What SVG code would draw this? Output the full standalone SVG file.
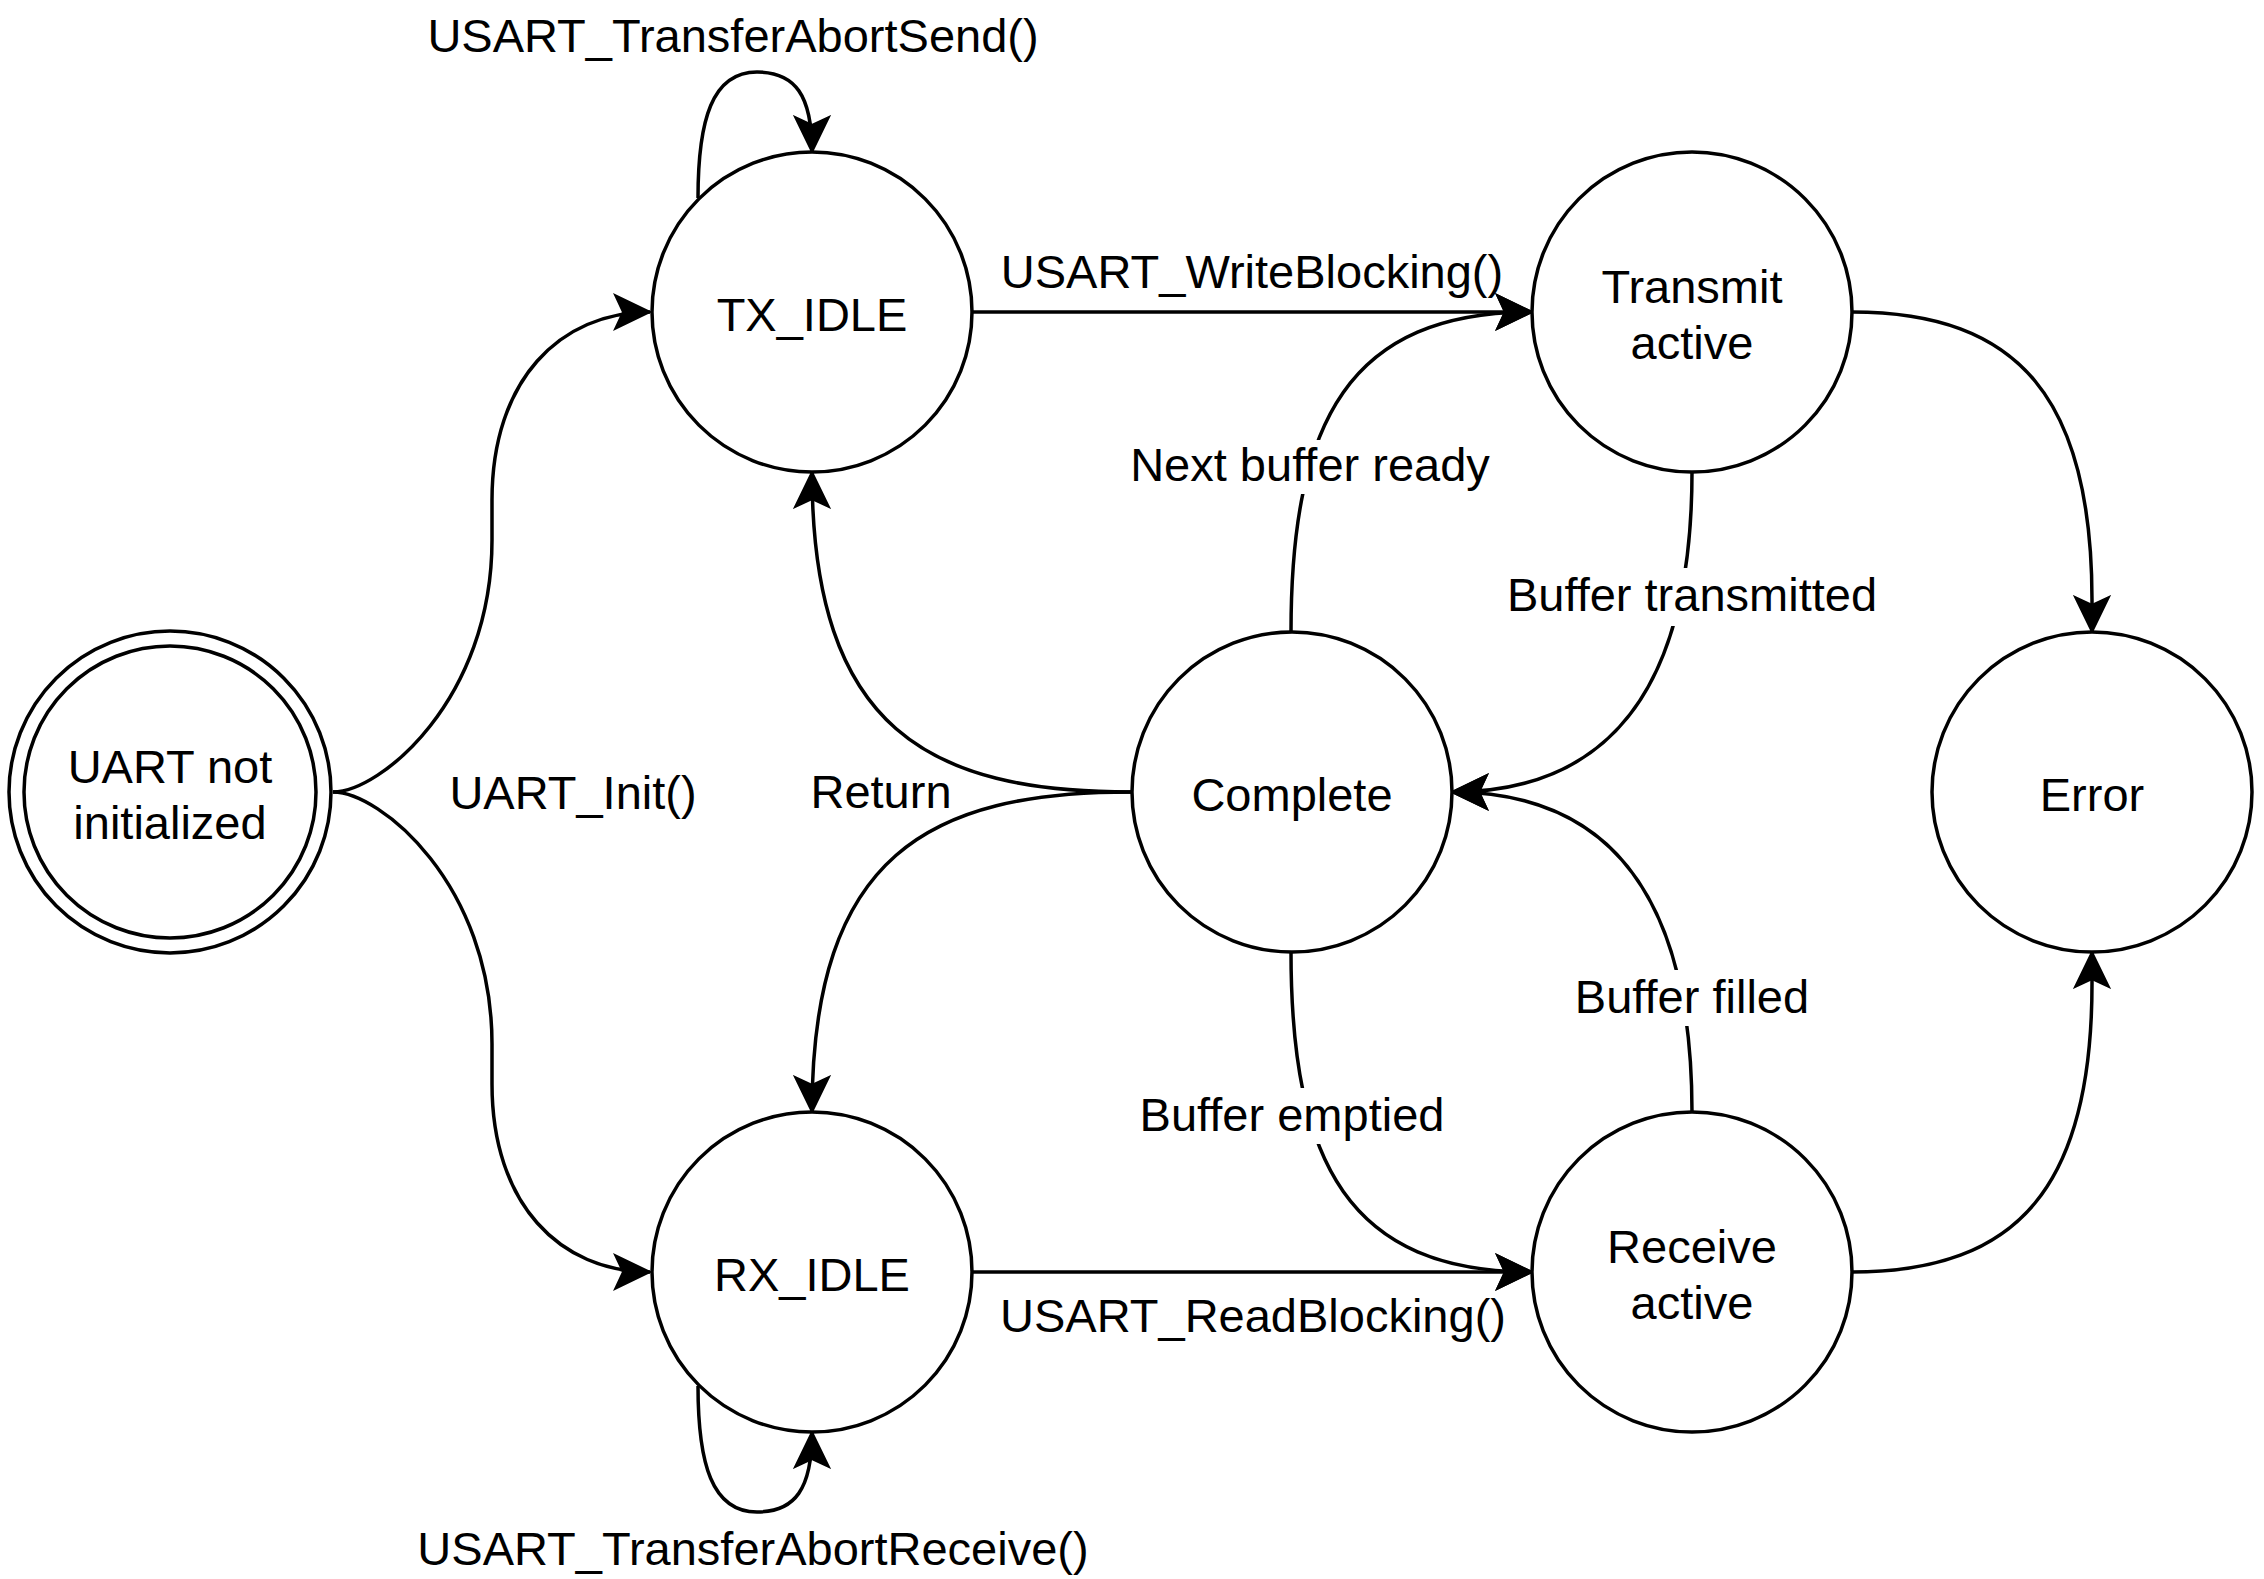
<svg xmlns="http://www.w3.org/2000/svg" width="2264" height="1579" viewBox="0 0 2264 1579">
<defs>
<style>
.node{fill:#fff;stroke:#000;stroke-width:3.5}
.edge{fill:none;stroke:#000;stroke-width:3.5;marker-end:url(#arr)}
.t{font-family:"Liberation Sans",Arial,Helvetica,sans-serif;font-size:47px;fill:#000;text-anchor:middle}
.bg{fill:#fff}
</style>
<marker id="arr" viewBox="0 0 40 40" markerWidth="40" markerHeight="40" refX="37" refY="20" orient="auto" markerUnits="userSpaceOnUse">
<path d="M37,20 L2,3 L10,20 L2,37 Z" fill="#000" stroke="#000" stroke-width="2" stroke-linejoin="miter"/>
</marker>
</defs>
<rect width="2264" height="1579" fill="#fff"/>
<g id="connectors">
<path class="edge" d="M333,792 C380,792 492,700 492,540 L492,500 C492,380 560,312 650,312"/>
<path class="edge" d="M333,792 C380,792 492,884 492,1044 L492,1084 C492,1204 560,1272 650,1272"/>
<path class="edge" d="M698,198 C698,120 712,72 757,72 C795,72 812,95 812,152"/>
<path class="edge" d="M698,1386 C698,1464 712,1512 757,1512 C795,1512 812,1489 812,1432"/>
<path class="edge" d="M973,312 L1532,312"/>
<path class="edge" d="M973,1272 L1532,1272"/>
<path class="edge" d="M1131,792 C930,792 812,730 812,472"/>
<path class="edge" d="M1131,792 C930,792 812,854 812,1112"/>
<path class="edge" d="M1291,632 C1291,420 1350,312 1532,312"/>
<path class="edge" d="M1291,952 C1291,1164 1350,1272 1532,1272"/>
<path class="edge" d="M1692,472 C1692,700 1600,792 1452,792"/>
<path class="edge" d="M1692,1112 C1692,884 1600,792 1452,792"/>
<path class="edge" d="M1852,312 C2020,312 2092,400 2092,600 L2092,632"/>
<path class="edge" d="M1852,1272 C2020,1272 2092,1184 2092,984 L2092,952"/>
<g id="edge-labels">
<text class="t" x="733" y="52">USART_TransferAbortSend()</text>
<text class="t" x="1252" y="288">USART_WriteBlocking()</text>
<text class="t" x="573" y="809">UART_Init()</text>
<text class="t" x="881" y="808">Return</text>
<rect class="bg" x="1126" y="440" width="368" height="54"/>
<text class="t" x="1310" y="481">Next buffer ready</text>
<rect class="bg" x="1503" y="568" width="378" height="58"/>
<text class="t" x="1692" y="611">Buffer transmitted</text>
<rect class="bg" x="1571" y="970" width="242" height="56"/>
<text class="t" x="1692" y="1013">Buffer filled</text>
<rect class="bg" x="1136" y="1088" width="313" height="56"/>
<text class="t" x="1292" y="1131">Buffer emptied</text>
<text class="t" x="1253" y="1332">USART_ReadBlocking()</text>
<text class="t" x="753" y="1565">USART_TransferAbortReceive()</text>
</g>
</g>
<g id="uart">
<circle class="node" cx="170" cy="792" r="161"/>
<circle class="node" cx="170" cy="792" r="146"/>
<text class="t" x="170" y="783">UART not</text>
<text class="t" x="170" y="839">initialized</text>
</g>
<g id="tx_idle">
<circle class="node" cx="812" cy="312" r="160"/>
<text class="t" x="812" y="331">TX_IDLE</text>
</g>
<g id="transmit_active">
<circle class="node" cx="1692" cy="312" r="160"/>
<text class="t" x="1692" y="303">Transmit</text>
<text class="t" x="1692" y="359">active</text>
</g>
<g id="complete">
<circle class="node" cx="1292" cy="792" r="160"/>
<text class="t" x="1292" y="811">Complete</text>
</g>
<g id="error">
<circle class="node" cx="2092" cy="792" r="160"/>
<text class="t" x="2092" y="811">Error</text>
</g>
<g id="rx_idle">
<circle class="node" cx="812" cy="1272" r="160"/>
<text class="t" x="812" y="1291">RX_IDLE</text>
</g>
<g id="receive_active">
<circle class="node" cx="1692" cy="1272" r="160"/>
<text class="t" x="1692" y="1263">Receive</text>
<text class="t" x="1692" y="1319">active</text>
</g>
</svg>
